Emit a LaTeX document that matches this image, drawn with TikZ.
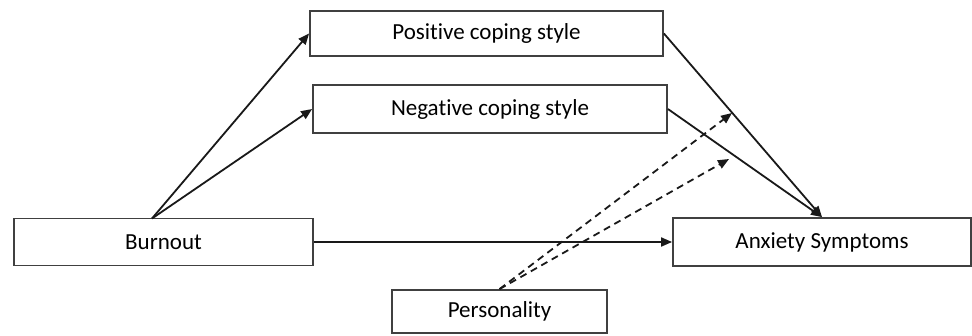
\documentclass[tikz,border=0pt]{standalone}
\usepackage{fontspec}
\setmainfont{Carlito}[Ligatures=NoCommon]
\usetikzlibrary{arrows.meta,calc}
\begin{document}
\begin{tikzpicture}[x=1pt,y=-1pt,
  box/.style={draw=black!75, line width=1.8pt, fill=white, inner sep=0pt, font=\fontsize{23}{26}\selectfont, text=black},
  link/.style={draw=black!90, line width=1.8pt, -{Triangle[length=11pt,width=9pt]}},
  dlink/.style={link, dash pattern=on 7pt off 5pt}]
\useasboundingbox (0,0) rectangle (972,335);
\node[box, minimum width=299pt, minimum height=47pt] (burn) at (163.5,242) {Burnout};
\node[box, minimum width=353pt, minimum height=45pt] (pos) at (486.5,33.5) {Positive coping style};
\node[box, minimum width=354pt, minimum height=48pt] (neg) at (490,109) {Negative coping style};
\node[box, minimum width=298pt, minimum height=48pt] (anx) at (822,242) {Anxiety Symptoms};
\node[box, minimum width=215pt, minimum height=43pt] (pers) at (499.5,311.5) {Personality};
\coordinate (bt) at (152,218.5);
\coordinate (m1) at (732,113);
\coordinate (m2) at (729,159);
\draw[link] (bt) -- (pos.west);
\draw[link] (bt) -- (neg.west);
\draw[link] (pos.east) -- (anx.north);
\draw[link] (neg.east) -- (anx.north);
\draw[link] (burn.east) -- (anx.west);
\draw[dlink] (pers.north) -- (m1);
\draw[dlink] (pers.north) -- (m2);
\end{tikzpicture}
\end{document}
